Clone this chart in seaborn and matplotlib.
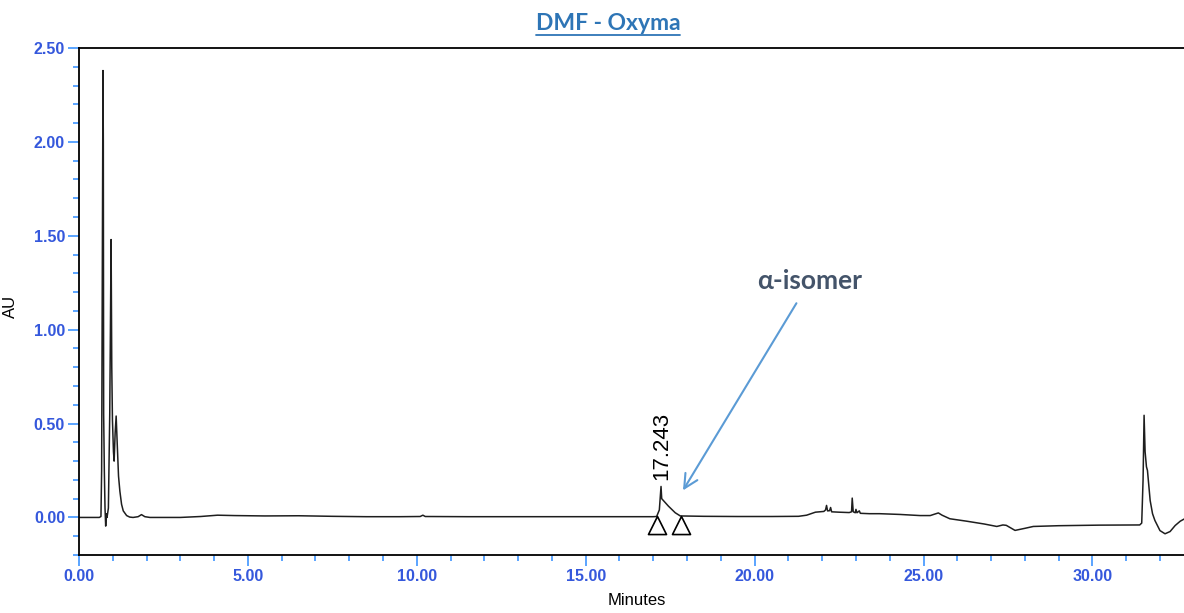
import matplotlib
matplotlib.use("Agg")
import matplotlib.pyplot as plt
from matplotlib.lines import Line2D
from matplotlib.path import Path
from matplotlib.ticker import MultipleLocator, FormatStrFormatter
import seaborn as sns
import pandas as pd

# Chromatogram trace: retention time (min) and absorbance (AU)
time_min = [
    0.00, 0.60, 0.65, 0.67, 0.69, 0.71, 0.72, 0.73, 0.75, 0.77, 0.79, 0.81, 0.83,
    0.87, 0.91, 0.93, 0.95, 0.97, 0.99, 1.02, 1.04, 1.07, 1.10, 1.13, 1.17, 1.21,
    1.26, 1.31, 1.41, 1.50, 1.60, 1.75, 1.85, 1.95, 2.10, 3.00, 3.60, 4.10, 4.60,
    5.50, 6.50, 7.50, 8.50, 9.50, 10.10, 10.18, 10.25, 11.50, 13.00, 14.50, 16.00,
    17.00, 17.10, 17.18, 17.23, 17.25, 17.45, 17.65, 17.80, 18.50, 19.50, 20.50,
    21.30, 21.54, 21.80, 22.05, 22.10, 22.13, 22.16, 22.22, 22.25, 22.28, 22.50,
    22.80, 22.87, 22.89, 22.92, 22.98, 23.00, 23.03, 23.10, 23.13, 23.40, 23.70,
    24.30, 24.90, 25.20, 25.30, 25.44, 25.55, 25.78, 26.28, 26.80, 27.17, 27.35,
    27.45, 27.71, 28.00, 28.25, 29.00, 30.20, 31.40, 31.46, 31.50, 31.53, 31.56,
    31.60, 31.63, 31.71, 31.78, 31.85, 32.00, 32.15, 32.30, 32.45, 32.60, 32.75,
]
absorbance_au = [
    0.000, 0.000, 0.005, 0.250, 1.300, 2.380, 2.000, 0.550, 0.250, 0.050, -0.046,
    0.020, 0.000, 0.050, 0.550, 1.000, 1.480, 0.800, 0.520, 0.350, 0.300, 0.450,
    0.540, 0.400, 0.220, 0.140, 0.070, 0.035, 0.010, 0.002, 0.000, 0.004, 0.015,
    0.004, 0.000, 0.000, 0.005, 0.012, 0.010, 0.008, 0.009, 0.006, 0.004, 0.004,
    0.005, 0.012, 0.005, 0.004, 0.004, 0.004, 0.004, 0.004, 0.005, 0.040, 0.165,
    0.100, 0.060, 0.025, 0.008, 0.006, 0.005, 0.005, 0.006, 0.012, 0.028, 0.032,
    0.040, 0.064, 0.035, 0.036, 0.053, 0.030, 0.028, 0.026, 0.030, 0.103, 0.030,
    0.025, 0.043, 0.025, 0.035, 0.022, 0.020, 0.020, 0.016, 0.010, 0.010, 0.016,
    0.024, 0.012, -0.007, -0.020, -0.035, -0.048, -0.040, -0.042, -0.069, -0.058,
    -0.048, -0.044, -0.041, -0.040, -0.030, 0.200, 0.544, 0.350, 0.270, 0.250,
    0.090, 0.020, -0.016, -0.070, -0.087, -0.075, -0.043, -0.020, -0.005,
]

# Integrated peak: apex time label and integration start/end markers
peak_label = "17.243"
peak_rt = 17.243
peak_label_au = 0.20
integration_times = [17.10, 17.81]
integration_au = [0.01, 0.01]

annotation_text = "α-isomer"
annotation_xy = (17.88, 0.144)
annotation_text_xy = (21.64, 1.26)

title_text = "DMF - Oxyma"
x_label = "Minutes"
y_label = "AU"

sns.set_style("ticks")
plt.rcParams["font.family"] = ["Liberation Sans", "DejaVu Sans"]

tick_blue = "#2E8BFF"
label_blue = "#3558DC"

fig = plt.figure(figsize=(11.84, 6.13), dpi=100)
ax = fig.add_axes([79 / 1184, 58 / 613, 1 - 79 / 1184, 507 / 613])

trace = pd.DataFrame({"Minutes": time_min, "AU": absorbance_au})
sns.lineplot(data=trace, x="Minutes", y="AU", estimator=None, sort=False,
             color="#1e1e1e", linewidth=1.1, ax=ax)

# Integration markers: open triangles with their apex on the baseline
tri = Path([(0, 0), (-0.5, -1), (0.5, -1), (0, 0)],
           [Path.MOVETO, Path.LINETO, Path.LINETO, Path.CLOSEPOLY])
ax.plot(integration_times, integration_au, linestyle="none", marker=tri,
        markersize=26, markerfacecolor="none", markeredgecolor="black",
        markeredgewidth=1.2)

ax.text(peak_rt, peak_label_au, peak_label, rotation=90, ha="center",
        va="bottom", fontsize=16, color="black")

ax.annotate(annotation_text, xy=annotation_xy, xytext=annotation_text_xy,
            ha="center", va="center", fontsize=19, fontweight="bold",
            family=["Lato", "DejaVu Sans"], color="#44546A",
            arrowprops=dict(arrowstyle="->,head_length=1.0,head_width=0.5",
                            mutation_scale=10, color="#5B9BD5", lw=1.5,
                            shrinkA=6, shrinkB=0))

ax.set_xlim(0, (1184 - 79) / 33.78)
ax.set_ylim(-0.2, 2.5)
ax.xaxis.set_major_locator(MultipleLocator(5))
ax.xaxis.set_minor_locator(MultipleLocator(1))
ax.yaxis.set_major_locator(MultipleLocator(0.5))
ax.yaxis.set_minor_locator(MultipleLocator(0.1))
ax.xaxis.set_major_formatter(FormatStrFormatter("%.2f"))
ax.yaxis.set_major_formatter(FormatStrFormatter("%.2f"))

ax.tick_params(which="major", direction="out", length=8, width=1.1,
               color=tick_blue, labelcolor=label_blue, labelsize=11.5, pad=2)
ax.tick_params(which="minor", direction="out", length=4.5, width=1.1,
               color=tick_blue)
for lbl in ax.get_xticklabels() + ax.get_yticklabels():
    lbl.set_fontweight("bold")

for side in ("left", "bottom", "top"):
    ax.spines[side].set_color("black")
    ax.spines[side].set_linewidth(1.3)
ax.spines["right"].set_visible(False)

ax.set_xlabel(x_label, fontsize=12, color="black")
ax.set_ylabel(y_label, fontsize=12, color="black")
ax.xaxis.set_label_coords(0.505, -0.075)
ax.yaxis.set_label_coords(-0.055, 0.49)

title = fig.text(608 / 1184, 1 - 23 / 613, title_text, ha="center", va="center",
                 fontsize=16.5, fontweight="bold", family=["Lato", "DejaVu Sans"],
                 color="#2E75B6")

# Underline the title
fig.canvas.draw()
bb = title.get_window_extent(renderer=fig.canvas.get_renderer())
fw, fh = fig.bbox.width, fig.bbox.height
y_line = (bb.y0 - 1) / fh
fig.add_artist(Line2D([bb.x0 / fw, bb.x1 / fw], [y_line, y_line],
                      transform=fig.transFigure, color="#2E75B6", linewidth=1.3))

fig.savefig("out.png", dpi=100)
